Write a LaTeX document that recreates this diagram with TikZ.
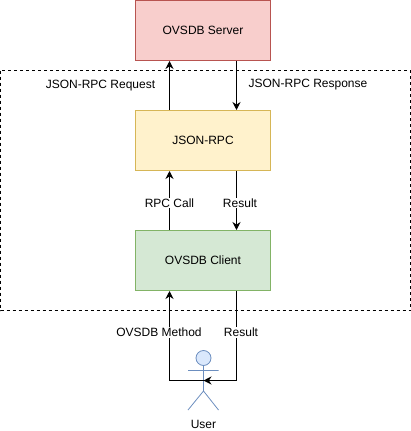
\documentclass[tikz,border=0pt]{standalone}
\usepackage{fontspec}
\setmainfont{Liberation Sans}
\usetikzlibrary{arrows.meta}

\definecolor{serverfill}{HTML}{F8CECC}
\definecolor{serverline}{HTML}{B85450}
\definecolor{rpcfill}{HTML}{FFF2CC}
\definecolor{rpcline}{HTML}{D6B656}
\definecolor{clientfill}{HTML}{D5E8D4}
\definecolor{clientline}{HTML}{82B366}
\definecolor{userfill}{HTML}{DAE8FC}
\definecolor{userline}{HTML}{6C8EBF}

\tikzset{
    boxnode/.style={draw,line width=1pt,minimum width=135pt,minimum height=60pt,inner sep=0pt},
    flow/.style={line width=1pt,-{Stealth[length=8pt,width=8pt]}},
    flowlabel/.style={fill=white,inner sep=1pt},
    textlabel/.style={inner sep=0pt}
}

\begin{document}
\begin{tikzpicture}[x=1pt,y=-1pt,font=\fontsize{12}{14}\selectfont]
    % Fix the margins
    \useasboundingbox (0,0) rectangle (411,431);

    % Draw the dashed frame
    \draw[line width=0.8pt,dash pattern=on 3pt off 3pt] (0.5,70.5) rectangle (410.5,310.5);

    % Draw the three boxes
    \node[boxnode,fill=serverfill,draw=serverline] (server) at (203,30.5) {OVSDB Server};
    \node[boxnode,fill=rpcfill,draw=rpcline] (rpc) at (203,140.5) {JSON-RPC};
    \node[boxnode,fill=clientfill,draw=clientline] (client) at (203,260.5) {OVSDB Client};

    % Draw the user figure
    \draw[userline,fill=userfill,line width=0.8pt] (203.5,358) circle (7.5);
    \draw[userline,line width=0.8pt] (203.5,365.5) -- (203.5,391)
        (188,370.5) -- (218.5,370.5)
        (188,410) -- (203.5,391) -- (218.5,410);
    \coordinate (user) at (203.5,380.5);
    \node[textlabel] (username) at (203.5,424) {User};

    % Arrows between server and JSON-RPC
    \draw[flow] ([xshift=-33.5pt]rpc.north) -- ([xshift=-33.5pt]server.south);
    \draw[flow] ([xshift=33.5pt]server.south) -- ([xshift=33.5pt]rpc.north);
    \node[textlabel] (request) at (100.5,86) {JSON-RPC Request};
    \node[textlabel] (response) at (308,85) {JSON-RPC Response};

    % Arrows between JSON-RPC and client
    \draw[flow] ([xshift=-33.5pt]client.north) -- node[flowlabel,yshift=-2.5pt] (call) {RPC Call} ([xshift=-33.5pt]rpc.south);
    \draw[flow] ([xshift=33.5pt]rpc.south) -- node[flowlabel,xshift=3.5pt,yshift=-2.5pt] (result) {Result} ([xshift=33.5pt]client.north);

    % Arrows between client and user
    \draw[flow] (user) -| node[flowlabel,pos=0.77,xshift=-10.5pt] (method) {OVSDB Method} ([xshift=-33.5pt]client.south);
    \draw[flow] ([xshift=33.5pt]client.south) |- node[flowlabel,pos=0.23,xshift=4.5pt] (back) {Result} (user);
\end{tikzpicture}
\end{document}
